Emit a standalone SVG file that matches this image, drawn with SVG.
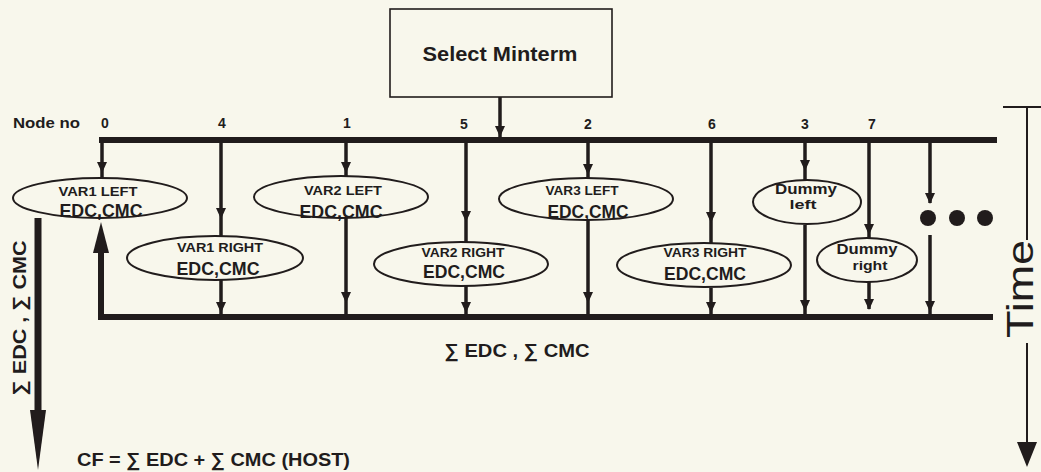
<svg xmlns="http://www.w3.org/2000/svg" xmlns:xlink="http://www.w3.org/1999/xlink" width="1041" height="472" viewBox="0 0 1041 472">
<defs>
<style>
.bg{fill:#f8f7ec}
.ln{stroke:#211c1c;fill:none;stroke-linecap:butt}
.bus{stroke:#211c1c;stroke-width:6;fill:none}
.v{stroke:#211c1c;stroke-width:3.5;fill:none}
.el{fill:#f8f7ec;stroke:#211c1c;stroke-width:2}
.t{font-family:"Liberation Sans",Arial,sans-serif;font-weight:bold;fill:#211c1c}
.tn{font-family:"Liberation Sans",Arial,sans-serif;fill:#211c1c}
.ah{fill:#211c1c}
</style>
<path id="ah" class="ah" d="M-5,-11 L5,-11 L0,0 Z"/>
</defs>
<rect class="bg" x="0" y="0" width="1041" height="472"/>

<g id="select-minterm">
<rect x="390" y="9" width="222" height="88" fill="#f8f7ec" stroke="#211c1c" stroke-width="1.6"/>
<text class="t" x="500" y="61" font-size="21" text-anchor="middle" textLength="155" lengthAdjust="spacingAndGlyphs">Select Minterm</text>
</g>

<g id="labels">
<text class="t" x="13" y="128" font-size="15" textLength="67" lengthAdjust="spacingAndGlyphs">Node no</text>
<g font-size="14" text-anchor="middle">
<text class="t" x="105" y="128">0</text>
<text class="t" x="222" y="128">4</text>
<text class="t" x="347" y="128">1</text>
<text class="t" x="464" y="129">5</text>
<text class="t" x="588" y="129">2</text>
<text class="t" x="712" y="129">6</text>
<text class="t" x="805" y="129">3</text>
<text class="t" x="872" y="129">7</text>
</g>
<text class="t" x="517" y="357" font-size="19" text-anchor="middle" textLength="145" lengthAdjust="spacingAndGlyphs">∑ EDC , ∑ CMC</text>
<text class="t" transform="translate(26,318) rotate(-90)" font-size="19" text-anchor="middle" textLength="155" lengthAdjust="spacingAndGlyphs">∑ EDC , ∑ CMC</text>
<text class="t" x="77" y="466" font-size="19" textLength="273" lengthAdjust="spacingAndGlyphs">CF = ∑ EDC + ∑ CMC (HOST)</text>
</g>

<g id="connectors">
<line class="v" x1="500" y1="97" x2="500" y2="137"/>
<use xlink:href="#ah" x="500" y="137"/>
<path class="bus" d="M99,140 H997"/>
<path class="bus" d="M101,253 V317 H993"/>
<polygon class="ah" points="93,253 109,253 101,222"/>
<line class="v" x1="102" y1="140" x2="102" y2="178"/>
<use xlink:href="#ah" x="102" y="173"/>
<line class="v" x1="221" y1="140" x2="221" y2="236"/>
<use xlink:href="#ah" x="221" y="219"/>
<line class="v" x1="221" y1="280" x2="221" y2="315"/>
<use xlink:href="#ah" x="221" y="313"/>
<line class="v" x1="346" y1="140" x2="346" y2="176"/>
<use xlink:href="#ah" x="346" y="173"/>
<line class="v" x1="346" y1="218" x2="346" y2="315"/>
<use xlink:href="#ah" x="346" y="303"/>
<line class="v" x1="466" y1="140" x2="466" y2="243"/>
<use xlink:href="#ah" x="466" y="222"/>
<line class="v" x1="466" y1="286" x2="466" y2="315"/>
<use xlink:href="#ah" x="466" y="313"/>
<line class="v" x1="588" y1="140" x2="588" y2="179"/>
<use xlink:href="#ah" x="588" y="175"/>
<line class="v" x1="588" y1="220" x2="588" y2="315"/>
<use xlink:href="#ah" x="588" y="303"/>
<line class="v" x1="711" y1="140" x2="711" y2="243"/>
<use xlink:href="#ah" x="711" y="223"/>
<line class="v" x1="711" y1="288" x2="711" y2="315"/>
<use xlink:href="#ah" x="711" y="313"/>
<line class="v" x1="805" y1="140" x2="805" y2="181"/>
<use xlink:href="#ah" x="805" y="171"/>
<line class="v" x1="805" y1="225" x2="805" y2="315"/>
<use xlink:href="#ah" x="805" y="311"/>
<line class="v" x1="869" y1="140" x2="869" y2="238"/>
<use xlink:href="#ah" x="869" y="235"/>
<line class="v" x1="869" y1="282" x2="869" y2="309"/>
<use xlink:href="#ah" x="869" y="310"/>
<line class="v" x1="930" y1="140" x2="930" y2="203"/>
<use xlink:href="#ah" x="930" y="204"/>
<line class="v" x1="930" y1="235" x2="930" y2="315"/>
<use xlink:href="#ah" x="930" y="312"/>
<line class="ln" stroke-width="7" x1="38" y1="218" x2="38" y2="412"/>
<polygon class="ah" points="30,410 46,410 38,470"/>
</g>

<g id="dots">
<circle class="ah" cx="928" cy="218" r="8"/>
<circle class="ah" cx="957" cy="218" r="8"/>
<circle class="ah" cx="985" cy="218" r="8"/>
</g>

<g id="var1-left">
<ellipse class="el" cx="100" cy="198" rx="87" ry="20"/>
<text class="t" x="98" y="196" font-size="13" text-anchor="middle" textLength="79" lengthAdjust="spacingAndGlyphs">VAR1 LEFT</text>
<text class="t" x="101" y="217" font-size="18" text-anchor="middle" textLength="83" lengthAdjust="spacingAndGlyphs">EDC,CMC</text>
</g>
<g id="var1-right">
<ellipse class="el" cx="215" cy="258" rx="88" ry="22"/>
<text class="t" x="220" y="252" font-size="13" text-anchor="middle" textLength="86" lengthAdjust="spacingAndGlyphs">VAR1 RIGHT</text>
<text class="t" x="218" y="275" font-size="18" text-anchor="middle" textLength="83" lengthAdjust="spacingAndGlyphs">EDC,CMC</text>
</g>
<g id="var2-left">
<ellipse class="el" cx="341" cy="197" rx="87" ry="21"/>
<text class="t" x="343" y="195" font-size="13" text-anchor="middle" textLength="78" lengthAdjust="spacingAndGlyphs">VAR2 LEFT</text>
<text class="t" x="341" y="218" font-size="18" text-anchor="middle" textLength="83" lengthAdjust="spacingAndGlyphs">EDC,CMC</text>
</g>
<g id="var2-right">
<ellipse class="el" cx="461" cy="264" rx="87" ry="22"/>
<text class="t" x="463" y="257" font-size="13" text-anchor="middle" textLength="83" lengthAdjust="spacingAndGlyphs">VAR2 RIGHT</text>
<text class="t" x="464" y="278" font-size="18" text-anchor="middle" textLength="82" lengthAdjust="spacingAndGlyphs">EDC,CMC</text>
</g>
<g id="var3-left">
<ellipse class="el" cx="586" cy="199" rx="87" ry="21"/>
<text class="t" x="582" y="195" font-size="13" text-anchor="middle" textLength="73" lengthAdjust="spacingAndGlyphs">VAR3 LEFT</text>
<text class="t" x="588" y="218" font-size="18" text-anchor="middle" textLength="81" lengthAdjust="spacingAndGlyphs">EDC,CMC</text>
</g>
<g id="var3-right">
<ellipse class="el" cx="704" cy="265" rx="87" ry="22"/>
<text class="t" x="705" y="257" font-size="13" text-anchor="middle" textLength="83" lengthAdjust="spacingAndGlyphs">VAR3 RIGHT</text>
<text class="t" x="705" y="280" font-size="18" text-anchor="middle" textLength="82" lengthAdjust="spacingAndGlyphs">EDC,CMC</text>
</g>
<g id="dummy-left">
<ellipse class="el" cx="807" cy="202" rx="54" ry="22"/>
<text class="t" x="806" y="194" font-size="14" text-anchor="middle" textLength="62" lengthAdjust="spacingAndGlyphs">Dummy</text>
<text class="t" x="803" y="209" font-size="12" text-anchor="middle" textLength="27" lengthAdjust="spacingAndGlyphs">left</text>
</g>
<g id="dummy-right">
<ellipse class="el" cx="867" cy="260" rx="50" ry="22"/>
<text class="t" x="867" y="254" font-size="14" text-anchor="middle" textLength="61" lengthAdjust="spacingAndGlyphs">Dummy</text>
<text class="t" x="870" y="270" font-size="13" text-anchor="middle" textLength="35" lengthAdjust="spacingAndGlyphs">right</text>
</g>

<g id="time-axis">
<line class="ln" stroke-width="2" x1="1003" y1="107" x2="1041" y2="107"/>
<line class="ln" stroke-width="2" x1="1027" y1="107" x2="1027" y2="240"/>
<line class="ln" stroke-width="2" x1="1027" y1="343" x2="1027" y2="445"/>
<polygon class="ah" points="1017,442 1037,442 1027,467"/>
<text class="tn" transform="translate(1033,289) rotate(-90)" font-size="36" text-anchor="middle" textLength="98" lengthAdjust="spacingAndGlyphs">Time</text>
</g>
</svg>
